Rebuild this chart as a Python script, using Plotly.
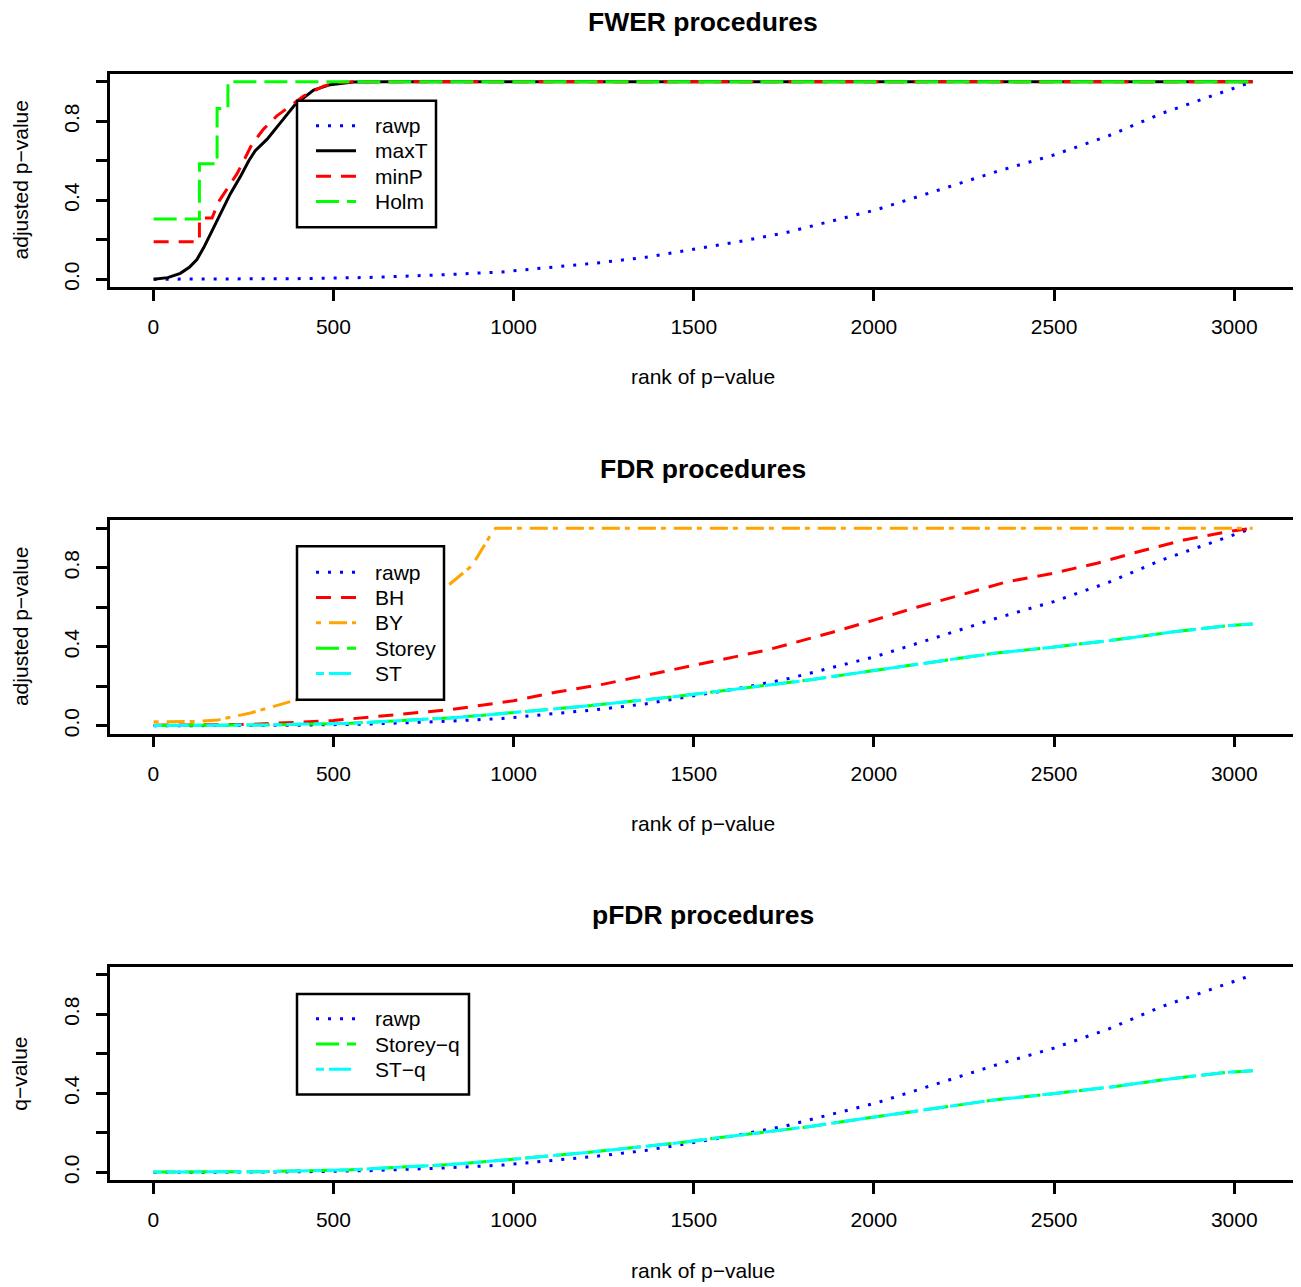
import plotly.graph_objects as go

# ---------------- data ----------------
rawp_rank = [1, 200, 400, 600, 800, 968, 1102, 1231, 1366, 1495, 1625, 1754, 1879, 2007,
             2191, 2344, 2499, 2651, 2798, 2948, 3051]
rawp_p = [0.0, 0.0005, 0.003, 0.009, 0.022, 0.037, 0.059, 0.082, 0.111, 0.149, 0.19, 0.235,
          0.292, 0.352, 0.458, 0.547, 0.629, 0.726, 0.839, 0.936, 1.0]

maxT_rank = [1, 40, 75, 100, 121, 140, 163, 191, 214, 241, 265, 283, 316, 352, 394, 445, 491,
             555, 650, 3051]
maxT_p = [0.0, 0.008, 0.03, 0.06, 0.10, 0.16, 0.245, 0.345, 0.433, 0.517, 0.6, 0.651, 0.709,
          0.79, 0.886, 0.958, 0.985, 0.998, 1.0, 1.0]

minP_rank = [1, 128, 128, 163, 181, 209, 232, 251, 274, 306, 343, 380, 417, 473, 510, 560, 3051]
minP_p = [0.19, 0.19, 0.31, 0.31, 0.391, 0.466, 0.533, 0.6, 0.684, 0.76, 0.827, 0.877, 0.927,
          0.978, 0.995, 1.0, 1.0]

holm_rank = [1, 128, 177, 207, 3051]
holm_p = [0.305, 0.584, 0.864, 1.0, 1.0]

bh_rank = [1, 270, 500, 639, 824, 1000, 1120, 1250, 1384, 1509, 1634, 1699, 1761, 1885, 2009,
           2119, 2244, 2366, 2491, 2619, 2739, 2860, 2989, 3051]
bh_p = [0.003, 0.007, 0.027, 0.049, 0.082, 0.127, 0.171, 0.211, 0.261, 0.309, 0.358, 0.382,
        0.412, 0.474, 0.54, 0.6, 0.664, 0.728, 0.77, 0.823, 0.884, 0.941, 0.985, 1.0]

by_rank = [1, 120, 180, 270, 399, 600, 810, 885, 935, 950, 3051]
by_p = [0.02, 0.022, 0.03, 0.065, 0.132, 0.40, 0.698, 0.812, 0.963, 1.0, 1.0]

storey_rank = [1, 300, 547, 824, 968, 1097, 1194, 1453, 1685, 1824, 1981, 2180, 2333, 2490,
               2665, 2832, 2980, 3051]
storey_p = [0.002, 0.004, 0.013, 0.04, 0.062, 0.082, 0.099, 0.149, 0.2, 0.233, 0.275, 0.329,
            0.367, 0.397, 0.434, 0.476, 0.507, 0.515]

st_rank = [1, 300, 547, 824, 968, 1097, 1194, 1453, 1685, 1824, 1981, 2180, 2333, 2490,
           2665, 2832, 2980, 3051]
st_p = [0.002, 0.004, 0.013, 0.04, 0.062, 0.082, 0.099, 0.149, 0.2, 0.233, 0.275, 0.329,
        0.367, 0.397, 0.434, 0.476, 0.507, 0.515]

x_ticks = [0, 500, 1000, 1500, 2000, 2500, 3000]
y_ticks = [0, 0.2, 0.4, 0.6, 0.8, 1.0]
y_ticktext = ["0.0", "", "0.4", "", "0.8", ""]

titles = ["FWER procedures", "FDR procedures", "pFDR procedures"]
ylabels = ["adjusted p\u2212value", "adjusted p\u2212value", "q\u2212value"]
xlabel = "rank of p\u2212value"

# ---------------- styles ----------------
OFF = 8                     # the page body has an 8px margin
W, H = 1301 - OFF, 1287 - OFF
FONT = "Liberation Sans, Arial, Helvetica, sans-serif"
DOT = "3px,9px"
DASH = "15px,10px"
LONG = "23px,8px"
DOTDASH = "5px,8px,18px,5px"
TWODASH = "8px,5px,22px,5px"

series = [
    [("rawp", rawp_rank, rawp_p, "#0000FF", DOT),
     ("maxT", maxT_rank, maxT_p, "#000000", "solid"),
     ("minP", minP_rank, minP_p, "#FF0000", DASH),
     ("Holm", holm_rank, holm_p, "#00FF00", LONG)],
    [("rawp", rawp_rank, rawp_p, "#0000FF", DOT),
     ("BH", bh_rank, bh_p, "#FF0000", DASH),
     ("BY", by_rank, by_p, "#FFA500", DOTDASH),
     ("Storey", storey_rank, storey_p, "#00FF00", LONG),
     ("ST", st_rank, st_p, "#00FFFF", TWODASH)],
    [("rawp", rawp_rank, rawp_p, "#0000FF", DOT),
     ("Storey\u2212q", storey_rank, storey_p, "#00FF00", LONG),
     ("ST\u2212q", st_rank, st_p, "#00FFFF", TWODASH)],
]

tops = [74, 522, 970]
bottoms = [288, 736, 1184]
left_px, right_px = 109.7, 1296.6

legend_boxes = [(297, 101, 436, 228), (297, 548, 444, 702), (297, 997, 469, 1098)]
legend_rows = [[126, 151.3, 176.7, 202], [574, 599.4, 624.8, 650.2, 675.6],
               [1022, 1047.3, 1072.7]]


def px(x):
    return (x - OFF) / W


def py(y):
    return 1 - (y - OFF) / H


fig = go.Figure()
shapes = []
annotations = []
layout = dict(
    width=W, height=H, autosize=False,
    margin=dict(l=0, r=0, t=0, b=0),
    paper_bgcolor="white", plot_bgcolor="white",
    showlegend=False,
    font=dict(family=FONT, color="black", size=21),
)

for i in range(3):
    sfx = "" if i == 0 else str(i + 1)
    xa, ya = "x" + sfx, "y" + sfx
    for name, xs, ys, col, dash in series[i]:
        fig.add_trace(go.Scatter(
            x=xs, y=ys, mode="lines", name=name,
            line=dict(color=col, width=3, dash=dash,
                      shape="hv" if name == "Holm" else "linear"),
            xaxis=xa, yaxis=ya, showlegend=False, hoverinfo="skip"))

    layout["xaxis" + sfx] = dict(
        domain=[px(left_px), px(right_px)], range=[-121, 3173], anchor=ya,
        showline=True, mirror=True, linecolor="black", linewidth=2.5,
        ticks="outside", ticklen=11, tickwidth=2.5, tickcolor="black",
        tickvals=x_ticks, ticktext=[str(v) for v in x_ticks],
        tickfont=dict(family=FONT, size=21, color="black"),
        ticklabelstandoff=8,
        showgrid=False, zeroline=False, fixedrange=True)
    layout["yaxis" + sfx] = dict(
        domain=[py(bottoms[i]), py(tops[i])], range=[-0.04, 1.04], anchor=xa,
        showline=True, mirror=True, linecolor="black", linewidth=2.5,
        ticks="outside", ticklen=11, tickwidth=2.5, tickcolor="black",
        tickvals=y_ticks, ticktext=y_ticktext, tickangle=-90,
        tickfont=dict(family=FONT, size=21, color="black"),
        ticklabelstandoff=9,
        showgrid=False, zeroline=False, fixedrange=True)

    mid = (tops[i] + bottoms[i]) / 2
    annotations.append(dict(text=titles[i], x=px(703), y=py(tops[i] - 52), xref="paper",
                            yref="paper", showarrow=False, xanchor="center", yanchor="middle",
                            font=dict(family=FONT, size=26.5, weight="bold", color="black")))
    annotations.append(dict(text=xlabel, x=px(703), y=py(bottoms[i] + 90), xref="paper",
                            yref="paper", showarrow=False, xanchor="center", yanchor="middle",
                            font=dict(family=FONT, size=21, color="black")))
    annotations.append(dict(text=ylabels[i], x=px(20), y=py(mid), xref="paper", yref="paper",
                            showarrow=False, xanchor="center", yanchor="middle", textangle=-90,
                            font=dict(family=FONT, size=21, color="black")))

    # legend box (drawn like R's legend(): white box, black border)
    x0, y0, x1, y1 = legend_boxes[i]
    shapes.append(dict(type="rect", xref="paper", yref="paper", x0=px(x0), x1=px(x1),
                       y0=py(y1), y1=py(y0), fillcolor="white",
                       line=dict(color="black", width=2.5), layer="above"))
    for (name, xs, ys, col, dash), ry in zip(series[i], legend_rows[i]):
        shapes.append(dict(type="line", xref="paper", yref="paper", x0=px(316), x1=px(356),
                           y0=py(ry), y1=py(ry), line=dict(color=col, width=3, dash=dash),
                           layer="above"))
        annotations.append(dict(text=name, x=px(373), y=py(ry), xref="paper", yref="paper",
                                showarrow=False, xanchor="left", yanchor="middle",
                                font=dict(family=FONT, size=21, color="black")))

layout["shapes"] = shapes
layout["annotations"] = annotations
fig.update_layout(**layout)
fig.write_html("out.html")
